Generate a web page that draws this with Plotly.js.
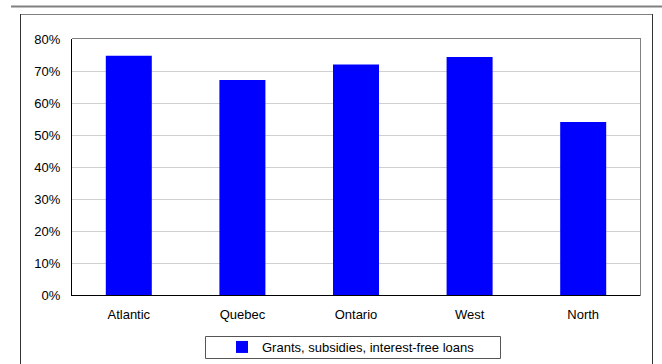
<!DOCTYPE html>
<html>
<head>
<meta charset="utf-8">
<script src="https://cdn.plot.ly/plotly-3.0.1.min.js"></script>
<style>html,body{margin:0;padding:0;background:#fff;}#chart{width:662px;height:364px;}</style>
</head>
<body>
<div id="chart"></div>
<script>
const categories = ["Atlantic", "Quebec", "Ontario", "West", "North"];
const values = [0.748, 0.672, 0.720, 0.744, 0.541];
const seriesName = "Grants, subsidies, interest-free loans";
const tickValues = [0, 0.1, 0.2, 0.3, 0.4, 0.5, 0.6, 0.7, 0.8];
const tickLabels = ["0%", "10%", "20%", "30%", "40%", "50%", "60%", "70%", "80%"];

const W = 662, H = 364;
const L = 72, R = 640, T = 39, B = 295;
const px = x => (x - L) / (R - L);
const py = y => (B - y) / (B - T);

const font = {family: "Arial, 'Liberation Sans', sans-serif", size: 13, color: "#000"};

const trace = {
  type: "bar",
  x: categories,
  y: values,
  name: seriesName,
  marker: {color: "#0000ff", line: {width: 0}},
  showlegend: true,
  hoverinfo: "x+y"
};

const layout = {
  width: W, height: H,
  margin: {l: L, r: W - R, t: T, b: H - B, pad: 0, autoexpand: false},
  paper_bgcolor: "#ffffff",
  plot_bgcolor: "#ffffff",
  font: font,
  bargap: 0.595,
  showlegend: true,
  xaxis: {
    type: "category",
    showgrid: false,
    zeroline: false,
    showline: true, linecolor: "#000", linewidth: 1,
    ticks: "", ticklen: 0,
    ticklabelstandoff: 7,
    tickfont: font,
    fixedrange: true,
    automargin: false
  },
  yaxis: {
    range: [0, 0.8],
    tickvals: tickValues,
    ticktext: tickLabels,
    showgrid: true, gridcolor: "#d0d0d0", gridwidth: 1,
    zeroline: false,
    showline: true, linecolor: "#000", linewidth: 1,
    ticks: "", ticklen: 0,
    ticklabelstandoff: 8,
    tickfont: font,
    fixedrange: true,
    automargin: false
  },
  legend: {
    orientation: "h",
    x: px(222), xanchor: "left",
    y: py(332), yanchor: "top",
    bgcolor: "rgba(0,0,0,0)",
    borderwidth: 0,
    font: font,
    itemwidth: 30
  },
  shapes: [
    {type: "line", xref: "paper", yref: "paper", x0: px(11), x1: px(662), y0: py(6.5), y1: py(6.5), line: {color: "#808080", width: 2}},
    {type: "line", xref: "paper", yref: "paper", x0: px(20), x1: px(652), y0: py(14.5), y1: py(14.5), line: {color: "#808080", width: 1}},
    {type: "line", xref: "paper", yref: "paper", x0: px(20.5), x1: px(20.5), y0: py(14), y1: py(370), line: {color: "#333", width: 1}},
    {type: "line", xref: "paper", yref: "paper", x0: px(652.5), x1: px(652.5), y0: py(14), y1: py(370), line: {color: "#333", width: 1}},
    {type: "line", xref: "paper", yref: "paper", x0: 0, x1: px(641), y0: py(38.5), y1: py(38.5), line: {color: "#808080", width: 1}},
    {type: "line", xref: "paper", yref: "paper", x0: px(640.5), x1: px(640.5), y0: py(38.5), y1: py(296), line: {color: "#808080", width: 1}},
    {type: "rect", xref: "paper", yref: "paper", x0: px(205.5), x1: px(500.5), y0: py(336.5), y1: py(358.5), line: {color: "#555", width: 1}, fillcolor: "rgba(0,0,0,0)"}
  ]
};

Plotly.newPlot("chart", [trace], layout, {displayModeBar: false, staticPlot: true});
</script>
</body>
</html>
